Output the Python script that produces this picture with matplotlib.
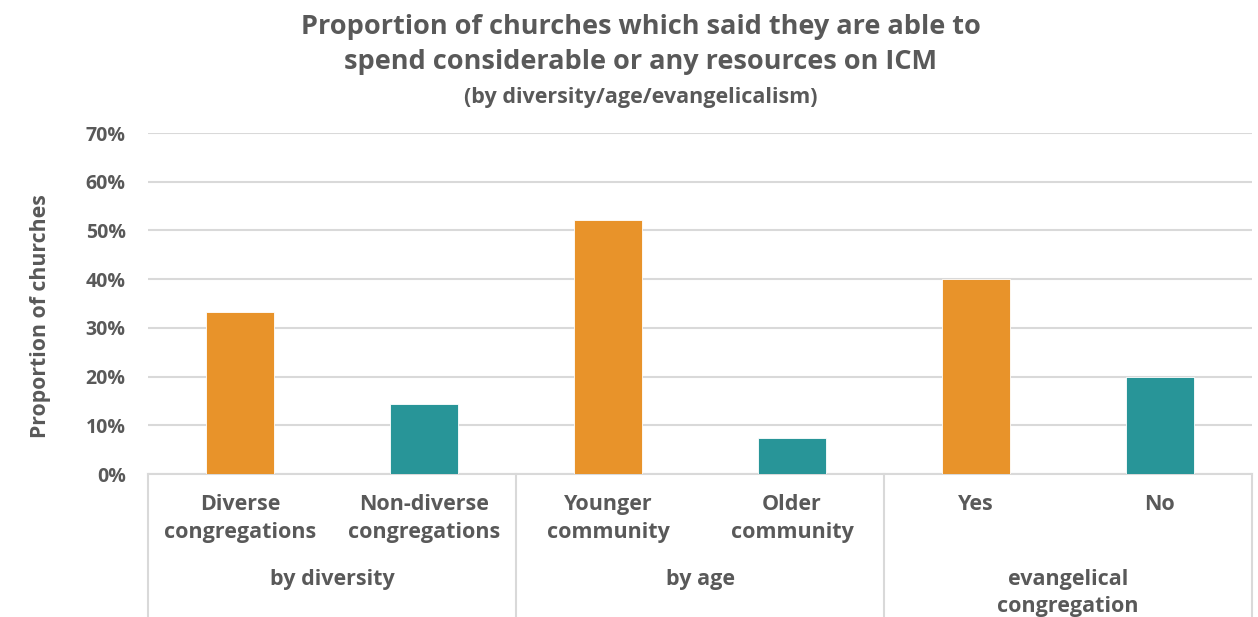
import matplotlib
matplotlib.use("Agg")
import matplotlib.pyplot as plt
import matplotlib.transforms as mtransforms

categories = ["Diverse\ncongregations", "Non-diverse\ncongregations",
              "Younger\ncommunity", "Older\ncommunity", "Yes", "No"]
values = [33.3, 14.3, 52.2, 7.4, 40.0, 20.0]
colors = ["#E8932A", "#289598", "#E8932A", "#289598", "#E8932A", "#289598"]
groups = ["by diversity", "by age", "evangelical\ncongregation"]
yticks = [0, 10, 20, 30, 40, 50, 60, 70]

TEXT = "#595959"
GRID = "#D9D9D9"
plt.rcParams["font.family"] = ["Open Sans", "DejaVu Sans"]
plt.rcParams["font.weight"] = "bold"

fig = plt.figure(figsize=(12.58, 6.17), dpi=100)
ax = fig.add_axes([148 / 1258, 143 / 617, 1104 / 1258, 341 / 617])

x = list(range(len(categories)))
ax.bar(x, values, width=0.37, color=colors, edgecolor="white", linewidth=0.6, zorder=3)
ax.set_xlim(-0.5, len(categories) - 0.5)
ax.set_ylim(0, 70)
ax.set_yticks(yticks)
ax.set_yticklabels([f"{t}%" for t in yticks], color=TEXT, fontsize=14, fontweight="bold")
ax.tick_params(axis="y", length=0, pad=16)
ax.tick_params(axis="x", length=0)
ax.set_xticks([])
ax.grid(axis="y", color=GRID, linewidth=1.5, zorder=0)
for s in ["top", "right", "left"]:
    ax.spines[s].set_visible(False)
ax.spines["bottom"].set_color(GRID)
ax.spines["bottom"].set_linewidth(1.5)

trans = mtransforms.blended_transform_factory(ax.transData, ax.transAxes)
for xi, lab in zip(x, categories):
    ax.text(xi, -0.06, lab, transform=trans, ha="center", va="top",
            fontsize=15.5, fontweight="bold", color=TEXT, linespacing=1.42)

for gi, g in enumerate(groups):
    ax.text(2 * gi + 0.5, -0.28, g, transform=trans, ha="center", va="top",
            fontsize=15.5, fontweight="bold", color=TEXT, linespacing=1.37)

for b in [-0.5, 1.5, 3.5, 5.5]:
    ax.plot([b, b], [0, -0.45], transform=trans, color=GRID, linewidth=1.5, clip_on=False)

ax.set_ylabel("Proportion of churches", color=TEXT, fontsize=15.3, fontweight="bold")
ax.yaxis.set_label_coords(-0.088, 0.463)

fig.text(641 / 1258, 1 - 27 / 617, "Proportion of churches which said they are able to",
         ha="center", va="center", fontsize=19.5, fontweight="bold", color=TEXT)
fig.text(641 / 1258, 1 - 62 / 617, "spend considerable or any resources on ICM",
         ha="center", va="center", fontsize=19.5, fontweight="bold", color=TEXT)
fig.text(641 / 1258, 1 - 97 / 617, "(by diversity/age/evangelicalism)",
         ha="center", va="center", fontsize=15.5, fontweight="bold", color=TEXT)

fig.savefig("out.png", dpi=100, facecolor="white")
